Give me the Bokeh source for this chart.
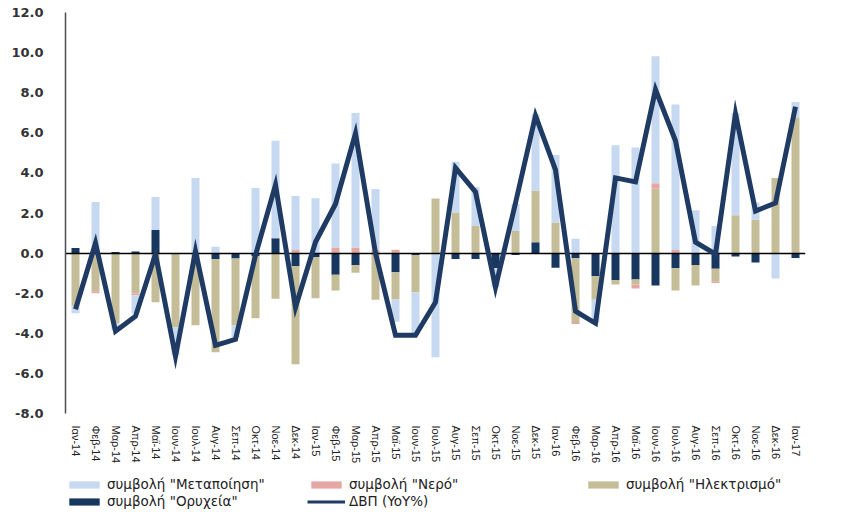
from bokeh.plotting import figure
from bokeh.layouts import column
from bokeh.models import FactorRange, Range1d, FixedTicker, PrintfTickFormatter, Legend, ColumnDataSource
from bokeh.embed import file_html
from bokeh.resources import INLINE

months = ["Ιαν-14", "Φεβ-14", "Μαρ-14", "Απρ-14", "Μαϊ-14", "Ιουν-14", "Ιουλ-14", "Αυγ-14",
          "Σεπ-14", "Οκτ-14", "Νοε-14", "Δεκ-14",
          "Ιαν-15", "Φεβ-15", "Μαρ-15", "Απρ-15", "Μαϊ-15", "Ιουν-15", "Ιουλ-15", "Αυγ-15",
          "Σεπ-15", "Οκτ-15", "Νοε-15", "Δεκ-15",
          "Ιαν-16", "Φεβ-16", "Μαρ-16", "Απρ-16", "Μαϊ-16", "Ιουν-16", "Ιουλ-16", "Αυγ-16",
          "Σεπ-16", "Οκτ-16", "Νοε-16", "Δεκ-16", "Ιαν-17"]

manufacturing = [-0.35, 2.55, -0.35, -0.9, 1.65, -1.4, 3.75, 0.32, -0.6, 3.25, 4.86, 2.7,
                 2.73, 4.19, 6.71, 3.05, -1.1, -2.1, -5.2, 2.53, 1.94, -0.95, 1.35, 3.8,
                 3.37, 0.71, -1.15, 5.38, 5.27, 6.33, 7.26, 2.14, 1.35, 5.1, 0.85, -1.27, 0.76]
water = [0.0, -0.1, 0.0, -0.1, 0.0, 0.0, 0.0, 0.0, 0.0, 0.0, 0.0, 0.15,
         0.0, 0.28, 0.28, 0.15, 0.17, 0.0, 0.0, 0.0, 0.0, 0.0, 0.0, 0.0,
         0.0, -0.1, 0.0, 0.0, -0.2, 0.28, 0.15, 0.0, -0.09, 0.0, 0.0, 0.0, 0.0]
electricity = [-2.65, -1.9, -3.5, -2.0, -2.45, -3.7, -3.6, -4.65, -3.33, -3.1, -2.28, -4.9,
               -2.05, -0.79, -0.38, -2.33, -1.37, -1.85, 2.72, 2.03, 1.35, 0.0, 1.1, 2.58,
               1.52, -3.2, -1.18, -0.22, -0.25, 3.21, -1.11, -1.03, -0.62, 1.89, 1.67, 3.75, 6.78]
mining = [0.25, 0.0, 0.05, 0.08, 1.15, 0.0, 0.0, -0.3, -0.27, -0.15, 0.74, -0.64,
          -0.2, -1.08, -0.6, 0.0, -0.95, -0.1, 0.0, -0.3, -0.3, -0.75, -0.1, 0.54,
          -0.73, -0.24, -1.15, -1.35, -1.32, -1.62, -0.76, -0.59, -0.78, -0.17, -0.47, 0.0, -0.24]
gdp_yoy = [-2.8, 0.5, -3.9, -3.15, -0.05, -5.15, 0.1, -4.6, -4.3, -0.1, 3.4, -2.7,
           0.55, 2.45, 5.97, 0.0, -4.1, -4.1, -2.45, 4.25, 3.05, -1.7, 2.5, 6.85,
           4.15, -2.9, -3.5, 3.75, 3.55, 8.15, 5.6, 0.55, -0.05, 6.95, 2.1, 2.5, 7.3]

y_ticks = [-8, -6, -4, -2, 0, 2, 4, 6, 8, 10, 12]

names = ["συμβολή \"Μεταποίηση\"", "συμβολή \"Νερό\"", "συμβολή \"Ηλεκτρισμό\"",
         "συμβολή \"Ορυχεία\"", "ΔΒΠ (YoY%)"]
colors = {"man": "#C6D9F1", "wat": "#E6A6A4", "ele": "#C4BD97", "min": "#17375E", "gdp": "#1F3B63"}

# stacking order from the axis outward
series = [("min", mining), ("ele", electricity), ("wat", water), ("man", manufacturing)]

p = figure(x_range=FactorRange(factors=months), y_range=Range1d(-8, 12),
           width=832, height=466, output_backend="svg", toolbar_location=None,
           min_border_left=65, min_border_right=27, min_border_top=12, min_border_bottom=45)
p.outline_line_color = None
p.xgrid.grid_line_color = None
p.ygrid.grid_line_color = None

pos_base = [0.0] * len(months)
neg_base = [0.0] * len(months)
for key, vals in series:
    bottoms, tops = [], []
    for i, v in enumerate(vals):
        if v >= 0:
            bottoms.append(pos_base[i]); tops.append(pos_base[i] + v); pos_base[i] += v
        else:
            tops.append(neg_base[i]); bottoms.append(neg_base[i] + v); neg_base[i] += v
    src = ColumnDataSource(dict(x=months, top=tops, bottom=bottoms))
    p.vbar(x="x", top="top", bottom="bottom", width=0.4, source=src,
           fill_color=colors[key], line_color=None)

p.hspan(y=[0], line_color="black", line_width=1.5)
p.line(x=months, y=gdp_yoy, line_color=colors["gdp"], line_width=5, line_join="miter")

p.yaxis.ticker = FixedTicker(ticks=y_ticks)
p.yaxis.formatter = PrintfTickFormatter(format="%.1f")
p.yaxis.axis_line_color = "#4D4D4D"
p.yaxis.axis_line_width = 1.5
p.yaxis.major_tick_line_color = None
p.yaxis.minor_tick_line_color = None
p.yaxis.major_label_standoff = 16
p.yaxis.major_label_text_font = "DejaVu Sans"
p.yaxis.major_label_text_font_style = "bold"
p.yaxis.major_label_text_font_size = "13px"
p.yaxis.major_label_text_color = "#333333"

p.xaxis.axis_line_color = None
p.xaxis.major_tick_line_color = None
p.xaxis.minor_tick_line_color = None
p.xaxis.major_label_orientation = "vertical"
p.xaxis.major_label_standoff = 6
p.xaxis.major_label_text_font = "Liberation Sans"
p.xaxis.major_label_text_font_size = "11px"
p.xaxis.major_label_text_color = "#222222"

# legend strip below the chart (its glyphs use the data but lie outside the visible range)
lp = figure(width=832, height=43, output_backend="svg", toolbar_location=None,
            x_range=FactorRange(factors=months), y_range=Range1d(100, 101),
            x_axis_location=None, y_axis_location=None,
            min_border_left=0, min_border_right=0, min_border_top=0, min_border_bottom=0)
lp.grid.visible = False
lp.outline_line_color = None

r_man = lp.vbar(x=months, top=manufacturing, width=0.4, fill_color=colors["man"], line_color=None)
r_wat = lp.vbar(x=months, top=water, width=0.4, fill_color=colors["wat"], line_color=None)
r_ele = lp.vbar(x=months, top=electricity, width=0.4, fill_color=colors["ele"], line_color=None)
r_min = lp.vbar(x=months, top=mining, width=0.4, fill_color=colors["min"], line_color=None)
r_gdp = lp.line(x=months, y=gdp_yoy, line_color=colors["gdp"], line_width=3)

def make_legend(items, loc, lw):
    lg = Legend(items=items, orientation="horizontal", location=loc)
    lg.margin = 0
    lg.padding = 0
    lg.spacing = 0
    lg.border_line_color = None
    lg.background_fill_alpha = 0
    lg.glyph_width = 38
    lg.glyph_height = 9
    lg.label_standoff = 4
    lg.label_width = lw
    lg.label_height = 15
    lg.label_text_font = "DejaVu Sans"
    lg.label_text_font_size = "13.5px"
    lg.label_text_color = "#222222"
    return lg

lp.add_layout(make_legend([(names[0], [r_man]), (names[1], [r_wat])], (0, 17), 200))
lp.add_layout(make_legend([(names[2], [r_ele])], (519, 17), 0))
lp.add_layout(make_legend([(names[3], [r_min]), (names[4], [r_gdp])], (0, 0), 200))

open("out.html", "w").write(file_html(column(p, lp), INLINE))
